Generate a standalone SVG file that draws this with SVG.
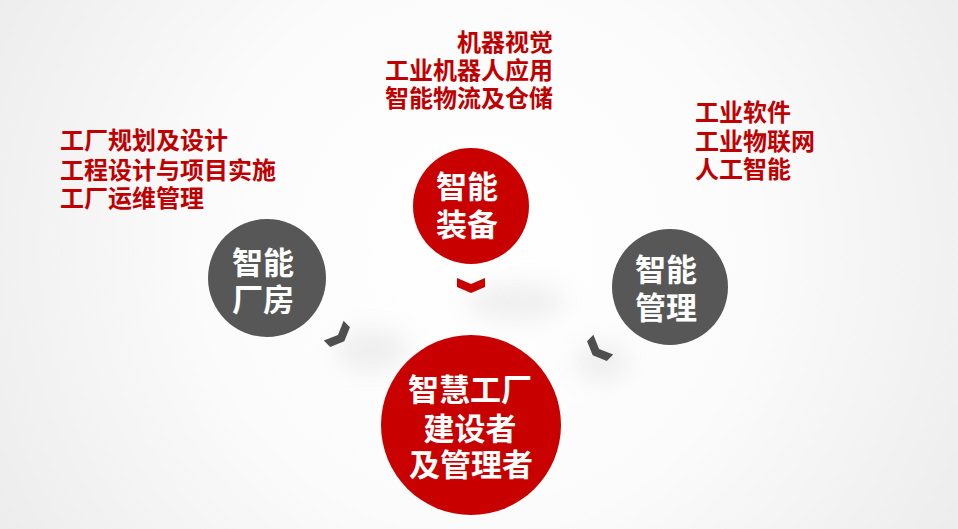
<svg xmlns="http://www.w3.org/2000/svg" width="958" height="529" viewBox="0 0 958 529">
<defs>
<radialGradient id="bg" cx="479" cy="250" r="620" gradientUnits="userSpaceOnUse">
<stop offset="0" stop-color="#ffffff"/>
<stop offset="0.45" stop-color="#fbfbfb"/>
<stop offset="1" stop-color="#e9e9e9"/>
</radialGradient>
<filter id="blur" x="-100%" y="-100%" width="300%" height="300%"><feGaussianBlur stdDeviation="12"/></filter>
<path id="chev" d="M-14,-7.5 L0,-1.5 L14,-7.5 L14,1.5 L0,7.5 L-14,1.5 Z"/>
</defs>
<style>
.red{fill:#c80000}
.gray{fill:#575757}
.chg{fill:#4f4f4f}
.lbl{font-family:"Noto Sans CJK SC","Noto Sans",sans-serif;font-weight:bold;font-size:24px;fill:#c00000}
.cir{font-family:"Noto Sans CJK SC","Noto Sans",sans-serif;font-weight:bold;font-size:31px;fill:#ffffff;text-anchor:middle}
.sh{fill:#a0a0a0;opacity:0.16;filter:url(#blur)}
</style>
<rect width="958" height="529" fill="url(#bg)"/>
<g id="shadows">
<ellipse class="sh" cx="515" cy="302" rx="50" ry="18"/>
<ellipse class="sh" cx="372" cy="350" rx="36" ry="20"/>
<ellipse class="sh" cx="602" cy="362" rx="26" ry="18"/>
</g>
<g id="connectors">
<use href="#chev" class="red" transform="translate(471,285.5)"/>
<use href="#chev" class="chg" transform="translate(339,336) rotate(-45)"/>
<use href="#chev" class="chg" transform="translate(598,350) rotate(45)"/>
</g>
<g id="node-factory">
<circle class="gray" cx="267" cy="278" r="59"/>
<text class="cir" x="263" y="274">智能</text>
<text class="cir" x="263" y="311">厂房</text>
</g>
<g id="node-equipment">
<circle class="red" cx="471" cy="206" r="58"/>
<text class="cir" x="467" y="198">智能</text>
<text class="cir" x="467" y="236">装备</text>
</g>
<g id="node-management">
<circle class="gray" cx="670" cy="287" r="58"/>
<text class="cir" x="666" y="281">智能</text>
<text class="cir" x="666" y="319">管理</text>
</g>
<g id="node-center">
<circle class="red" cx="471" cy="425" r="90"/>
<text class="cir" x="470" y="401">智慧工厂</text>
<text class="cir" x="470" y="440">建设者</text>
<text class="cir" x="471" y="476">及管理者</text>
</g>
<g id="label-factory">
<text class="lbl" x="60" y="149">工厂规划及设计</text>
<text class="lbl" x="60" y="179">工程设计与项目实施</text>
<text class="lbl" x="60" y="207">工厂运维管理</text>
</g>
<g id="label-equipment" style="text-anchor:end">
<text class="lbl" x="553" y="51">机器视觉</text>
<text class="lbl" x="553" y="79">工业机器人应用</text>
<text class="lbl" x="553" y="107">智能物流及仓储</text>
</g>
<g id="label-management">
<text class="lbl" x="695" y="121">工业软件</text>
<text class="lbl" x="695" y="150">工业物联网</text>
<text class="lbl" x="695" y="178">人工智能</text>
</g>
</svg>
